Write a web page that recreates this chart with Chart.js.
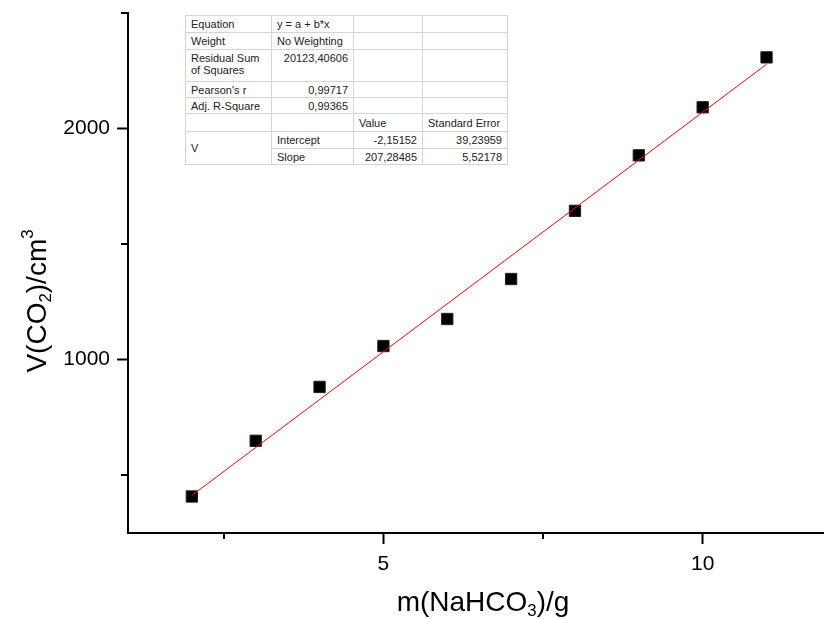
<!DOCTYPE html>
<html><head><meta charset="utf-8">
<script src="https://cdn.jsdelivr.net/npm/chart.js@4/dist/chart.umd.min.js"></script>
<style>
html,body{margin:0;padding:0;background:#fff;}
#wrap{position:relative;width:824px;height:619px;overflow:hidden;font-family:"Liberation Sans",Arial,sans-serif;color:#000;}
#c{position:absolute;left:0;top:0;}
.ttl{position:absolute;font-size:28px;line-height:32px;height:32px;text-align:center;white-space:nowrap;}
.ttl sub,.ttl sup{font-size:0.6em;line-height:0;}
.ttl sub{vertical-align:-0.3em;}
.ttl sup{vertical-align:0.75em;}
#xt{left:283px;top:586px;width:400px;}
#yt{left:-113px;top:285px;width:300px;transform:rotate(-90deg);transform-origin:50% 50%;}
#tbl{position:absolute;left:185px;top:15px;width:322px;border-collapse:collapse;table-layout:fixed;background:#fff;font-size:11px;line-height:12px;color:#222;border:1px solid #666;}
#tbl td{border:1px solid #d4d4d4;padding:0 5px;vertical-align:middle;white-space:nowrap;overflow:hidden;}
#tbl td.r{text-align:right;}
#tbl td.t{vertical-align:top;padding-top:2px;}
#tbl tr.sep td{border-top:1px solid #bbb;}
</style></head>
<body><div id="wrap">
<canvas id="c" width="824" height="619"></canvas>
<table id="tbl"></table>
<div class="ttl" id="xt">m(NaHCO<sub>3</sub>)/g</div>
<div class="ttl" id="yt">V(CO<sub>2</sub>)/cm<sup>3</sup></div>
</div>
<script>
// ---- data ----
const massValues = [2, 3, 4, 5, 6, 7, 8, 9, 10, 11];
const volumeValues = [408, 649, 882, 1059, 1176, 1349, 1644, 1884, 2092, 2308];
const fitX = [2, 11];
const fitY = [412.4, 2278.0];
const xTickValues = [2.5, 5, 7.5, 10];
const xTickLabels = ['', '5', '', '10'];
const yTickValues = [500, 1000, 1500, 2000, 2500];
const yTickLabels = ['', '1000', '', '2000', ''];
// fit statistics table
const statLabels = ['Equation', 'Weight', 'Residual Sum<br>of Squares', "Pearson's r", 'Adj. R-Square'];
const statValues = ['y = a + b*x', 'No Weighting', '20123,40606', '0,99717', '0,99365'];
const paramNames = ['Intercept', 'Slope'];
const paramValues = ['-2,15152', '207,28485'];
const paramErrors = ['39,23959', '5,52178'];

// ---- table ----
(function(){
  const t = document.getElementById('tbl');
  const rowH = [17, 17, 32, 16, 16, 18, 17, 16];
  let h = '<colgroup><col style="width:86px"><col style="width:82px"><col style="width:69px"><col style="width:85px"></colgroup>';
  statLabels.forEach((l, i) => {
    const right = i >= 2;
    const cls = i === 2 ? 'r t' : (right ? 'r' : '');
    h += `<tr style="height:${rowH[i]}px"><td${i===2?' style="vertical-align:top;padding-top:2px"':''}>${l}</td><td class="${cls}">${statValues[i]}</td><td></td><td></td></tr>`;
  });
  h += `<tr style="height:${rowH[5]}px"><td></td><td></td><td>Value</td><td>Standard Error</td></tr>`;
  paramNames.forEach((p, i) => {
    h += `<tr class="${i===0?'sep':''}" style="height:${rowH[6+i]}px">${i===0?'<td rowspan="2">V</td>':''}<td>${p}</td><td class="r">${paramValues[i]}</td><td class="r">${paramErrors[i]}</td></tr>`;
  });
  t.innerHTML = h;
})();

// ---- chart ----
const minorTicks = {
  id: 'minorTicks',
  afterDraw(chart) {
    const ctx = chart.ctx, xs = chart.scales.x, ys = chart.scales.y;
    ctx.save();
    ctx.strokeStyle = '#000';
    ctx.lineWidth = 2;
    ctx.beginPath();
    xTickValues.forEach((v, i) => {
      if (xTickLabels[i] === '') {
        const px = Math.round(xs.getPixelForValue(v));
        ctx.moveTo(px, xs.top); ctx.lineTo(px, xs.top + 6);
      }
    });
    yTickValues.forEach((v, i) => {
      if (yTickLabels[i] === '') {
        const py = Math.round(ys.getPixelForValue(v));
        ctx.moveTo(ys.right, py); ctx.lineTo(ys.right - 7, py);
      }
    });
    ctx.stroke();
    ctx.restore();
  }
};

new Chart(document.getElementById('c'), {
  type: 'scatter',
  data: {
    datasets: [
      {
        label: 'Fit',
        data: fitX.map((x, i) => ({x, y: fitY[i]})),
        showLine: true,
        borderColor: '#ff0000',
        borderWidth: 1,
        pointRadius: 0,
        order: 0
      },
      {
        label: 'V',
        data: massValues.map((x, i) => ({x, y: volumeValues[i]})),
        pointStyle: 'rect',
        pointRadius: 8,
        backgroundColor: '#000',
        borderColor: '#222',
        borderWidth: 1,
        order: 1
      }
    ]
  },
  options: {
    responsive: false,
    animation: false,
    layout: {autoPadding: false, padding: {left: 0, right: 0, top: 13, bottom: 0}},
    plugins: {legend: {display: false}, tooltip: {enabled: false}},
    scales: {
      x: {
        type: 'linear', min: 1.0, max: 11.9,
        afterBuildTicks: s => { s.ticks = xTickValues.map(v => ({value: v})); },
        afterFit: s => { s.height = 86; s.paddingLeft = 0; s.paddingRight = 0; },
        ticks: {
          autoSkip: false, maxRotation: 0, color: '#000', padding: 8,
          font: {family: '"Liberation Sans", Arial, sans-serif', size: 21},
          callback: (v, i) => xTickLabels[i]
        },
        grid: {
          drawOnChartArea: false, tickLength: 11, tickWidth: 2,
          tickColor: c => (c.index !== undefined && xTickLabels[c.index] !== '') ? '#000' : 'rgba(0,0,0,0)'
        },
        border: {display: true, color: '#000', width: 2}
      },
      y: {
        type: 'linear', min: 250, max: 2500,
        afterBuildTicks: s => { s.ticks = yTickValues.map(v => ({value: v})); },
        afterFit: s => { s.width = 128; s.paddingTop = 0; s.paddingBottom = 0; },
        ticks: {
          autoSkip: false, color: '#000', padding: 7,
          font: {family: '"Liberation Sans", Arial, sans-serif', size: 21},
          callback: (v, i) => yTickLabels[i]
        },
        grid: {
          drawOnChartArea: false, tickLength: 11, tickWidth: 2,
          tickColor: c => (c.index !== undefined && yTickLabels[c.index] !== '') ? '#000' : 'rgba(0,0,0,0)'
        },
        border: {display: true, color: '#000', width: 2}
      }
    }
  },
  plugins: [minorTicks]
});
</script>
</body></html>
